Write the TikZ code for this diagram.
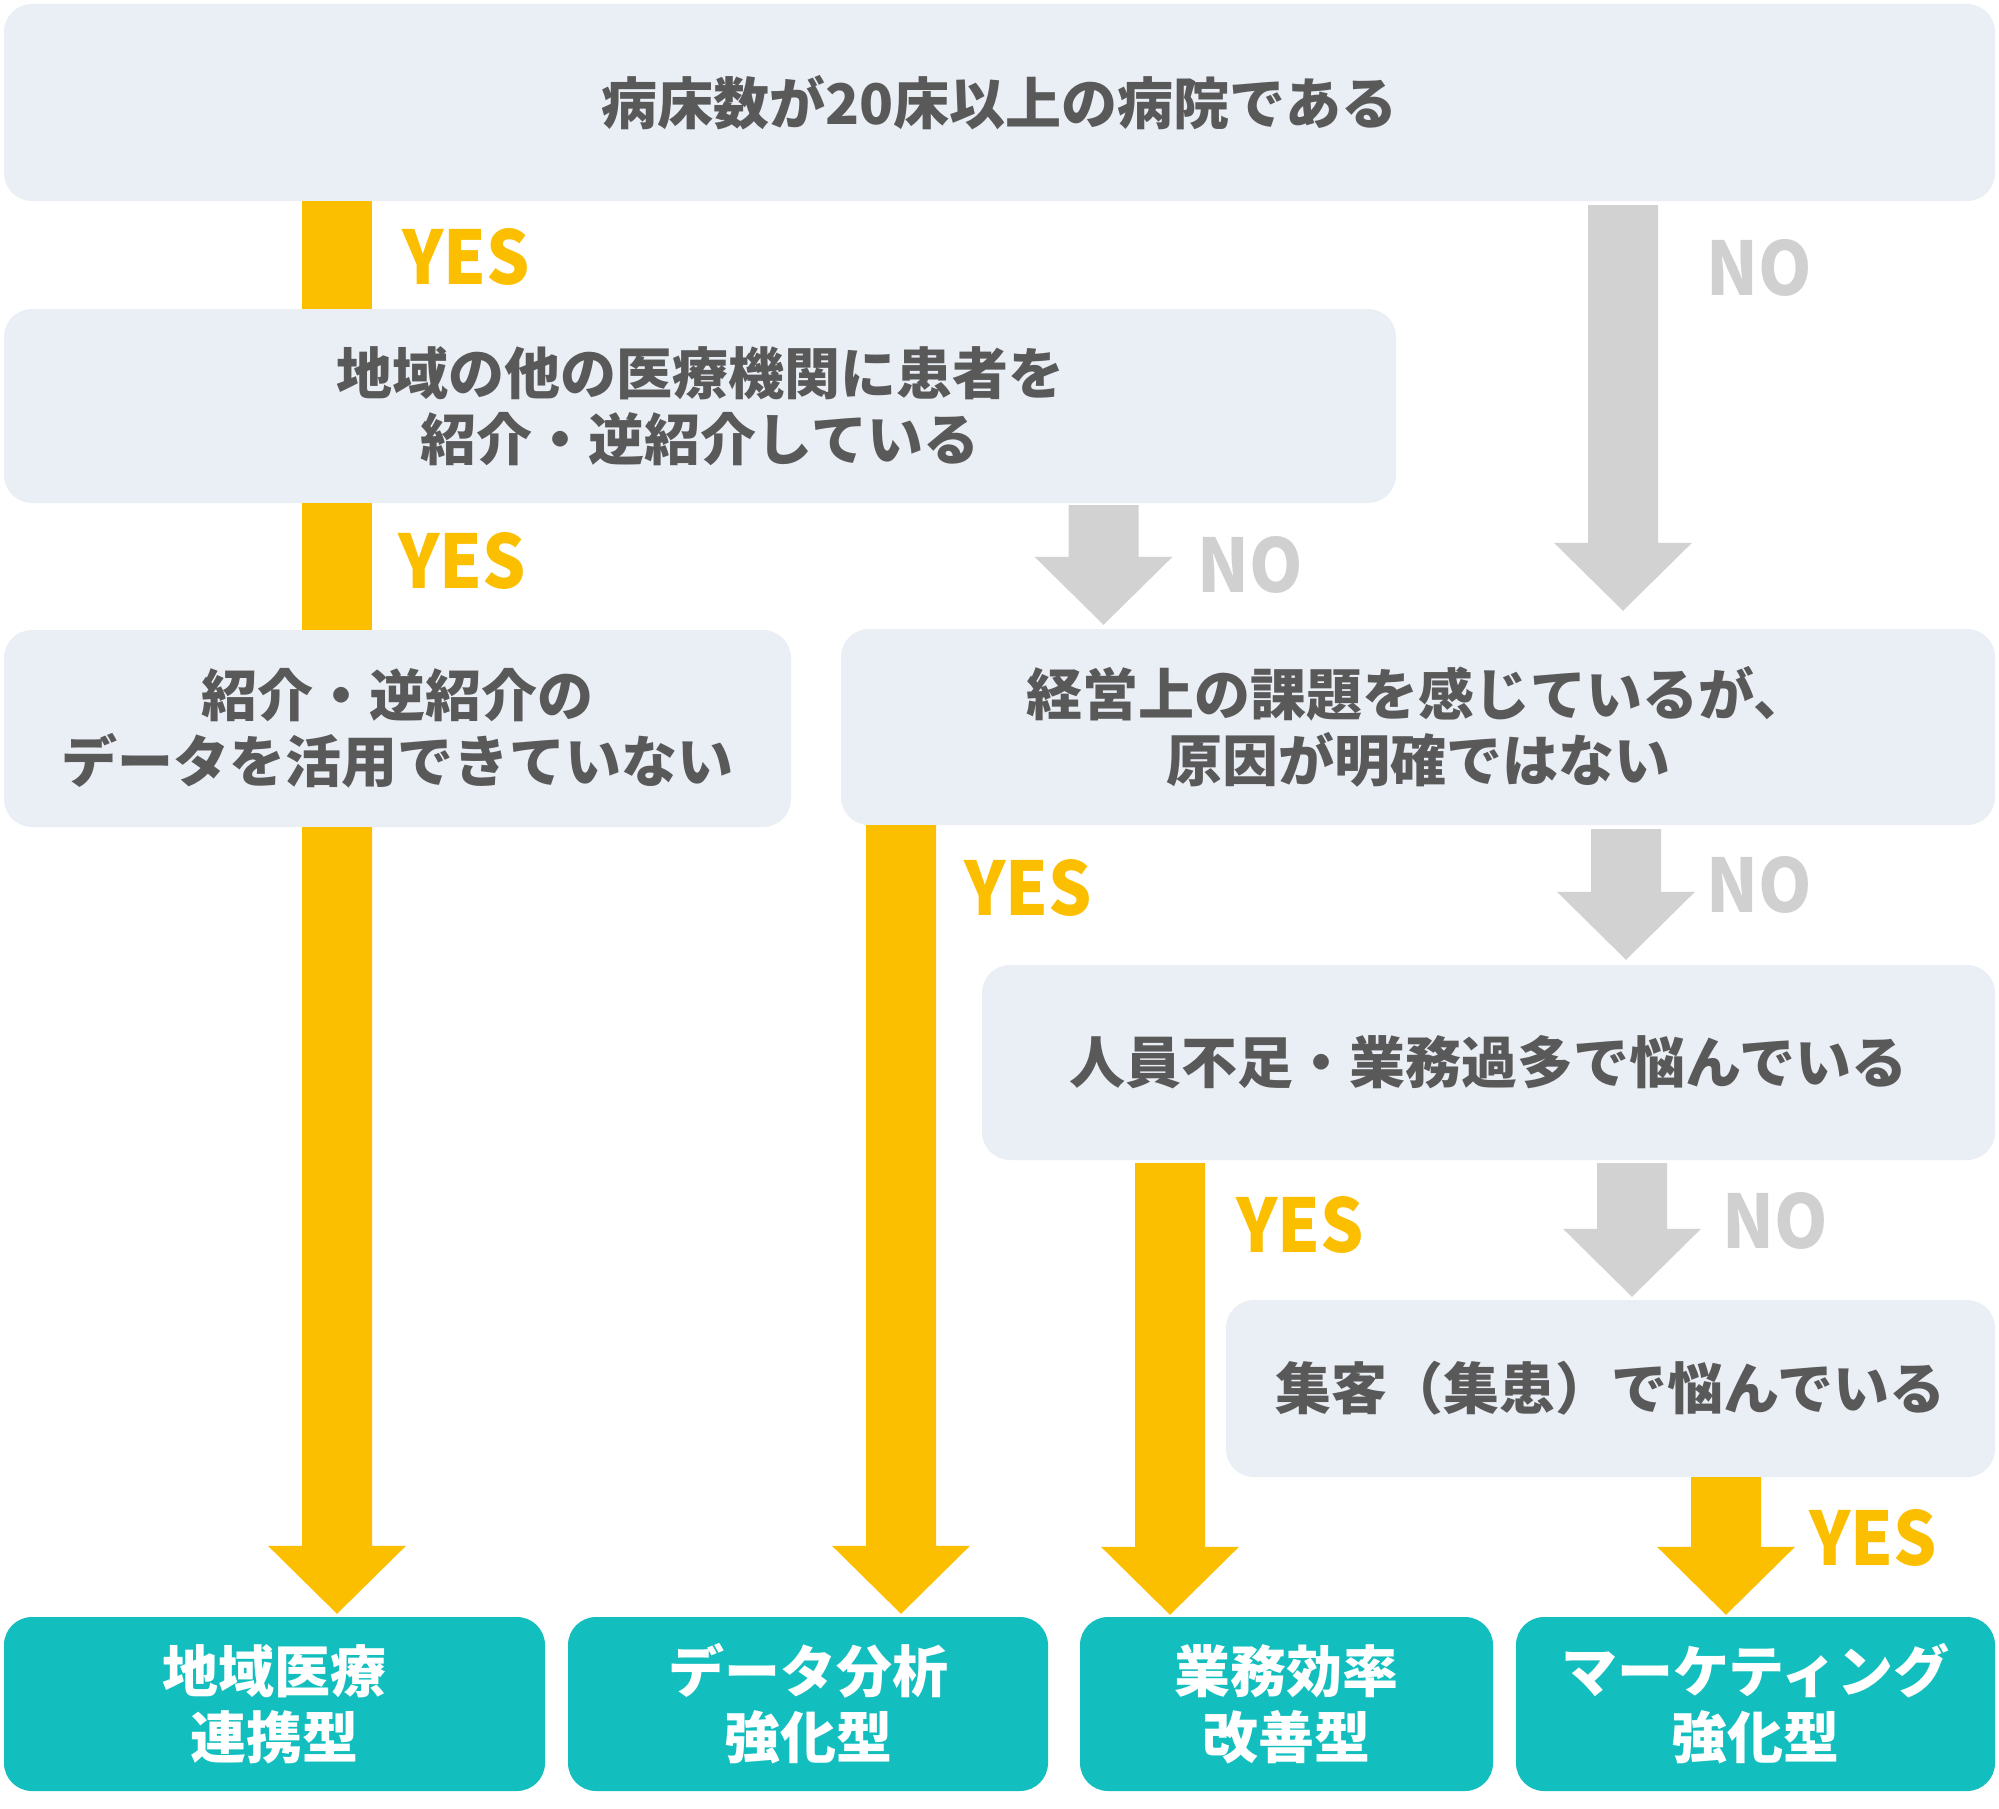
\documentclass[tikz,border=0pt]{standalone}
\usepackage{fontspec}
\setmainfont{Noto Sans CJK JP}
\newfontfamily\labfont{Noto Sans CJK JP}[FakeStretch=0.92]
\usetikzlibrary{calc}
\definecolor{qfill}{HTML}{EAEEF5}
\definecolor{qtext}{HTML}{595959}
\definecolor{yel}{HTML}{FBBF00}
\definecolor{garr}{HTML}{D2D2D2}
\definecolor{tealc}{HTML}{12BEBE}
\definecolor{notext}{HTML}{D0D0D0}
\newcommand\blockarrow[3]{%
  \fill[#1] let \p1=#2, \p2=#3 in
    (\x1-35pt,\y1) -- (\x1+35pt,\y1) -- (\x1+35pt,\y2+68pt) -- (\x1+69pt,\y2+68pt)
    -- (\x1,\y2) -- (\x1-69pt,\y2+68pt) -- (\x1-35pt,\y2+68pt) -- cycle;}
\newcommand\blockbar[3]{%
  \fill[#1] let \p1=#2, \p2=#3 in (\x1-35pt,\y1) rectangle (\x1+35pt,\y2);}
\begin{document}
\begin{tikzpicture}[x=1pt,y=-1pt,
  qbox/.style={fill=qfill, rounded corners=28pt, inner sep=0pt, align=center, text=qtext,
    font=\fontsize{56pt}{66pt}\selectfont\bfseries},
  rbox/.style={qbox, fill=tealc, text=white},
  yeslab/.style={text=yel, font=\labfont\fontsize{74pt}{74pt}\selectfont\bfseries, inner sep=0pt, anchor=base west},
  nolab/.style={yeslab, text=notext}]
\useasboundingbox (0,0) rectangle (1999,1809);
\fill[white] (0,0) rectangle (1999,1809);
% columns
\coordinate (c1) at (337,0);
\coordinate (c2) at (901,0);
\coordinate (c3) at (1170,0);
\coordinate (c4) at (1726,0);
\coordinate (g1) at (1623,0);
\coordinate (g2) at (1103.5,0);
\coordinate (g3) at (1626,0);
\coordinate (g4) at (1632,0);
% question boxes
\node[qbox, minimum width=1991pt, minimum height=197pt] (q1) at (999.5,102.5) {病床数が20床以上の病院である};
\node[qbox, minimum width=1392pt, minimum height=194pt] (q2) at (700,406) {地域の他の医療機関に患者を\\紹介・逆紹介している};
\node[qbox, minimum width=787pt, minimum height=197pt] (q3) at (397.5,728.5) {紹介・逆紹介の\\データを活用できていない};
\node[qbox, minimum width=1154pt, minimum height=196pt] (q4) at (1418,727) {経営上の課題を感じているが、\\原因が明確ではない};
\node[qbox, minimum width=1013pt, minimum height=195pt] (q5) at (1488.5,1062.5) {人員不足・業務過多で悩んでいる};
\node[qbox, minimum width=769pt, minimum height=177pt] (q6) at (1610.5,1388.5) {集客（集患）で悩んでいる};
% result boxes
\node[rbox, minimum width=541pt, minimum height=174pt] (r1) at (274.5,1704) {地域医療\\連携型};
\node[rbox, minimum width=480pt, minimum height=174pt] (r2) at (808,1704) {データ分析\\強化型};
\node[rbox, minimum width=413pt, minimum height=174pt] (r3) at (1286.5,1704) {業務効率\\改善型};
\node[rbox, minimum width=479pt, minimum height=174pt] (r4) at (1755.5,1704) {マーケティング\\強化型};
% yes connectors
\blockbar{yel}{(q1.south -| c1)}{(q2.north -| c1)}
\blockbar{yel}{(q2.south -| c1)}{(q3.north -| c1)}
\blockarrow{yel}{(q3.south -| c1)}{($(r1.north -| c1)+(0,-3)$)}
\blockarrow{yel}{(q4.south -| c2)}{($(r2.north -| c2)+(0,-3)$)}
\blockarrow{yel}{($(q5.south -| c3)+(0,3)$)}{($(r3.north -| c3)+(0,-2)$)}
\blockarrow{yel}{(q6.south -| c4)}{($(r4.north -| c4)+(0,-2)$)}
% no connectors
\blockarrow{garr}{($(q1.south -| g1)+(0,4)$)}{($(q4.north -| g1)+(0,-18)$)}
\blockarrow{garr}{($(q2.south -| g2)+(0,2)$)}{($(q4.north -| g2)+(0,-4)$)}
\blockarrow{garr}{($(q4.south -| g3)+(0,4)$)}{($(q5.north -| g3)+(0,-5)$)}
\blockarrow{garr}{($(q5.south -| g4)+(0,3)$)}{($(q6.north -| g4)+(0,-3)$)}
% labels
\node[yeslab] (y1) at (402,284) {YES};
\node[yeslab] (y2) at (398,588) {YES};
\node[yeslab] (y3) at (964,915) {YES};
\node[yeslab] (y4) at (1236,1252) {YES};
\node[yeslab] (y5) at (1809,1565) {YES};
\node[nolab] (n1) at (1706,295) {NO};
\node[nolab] (n2) at (1197,592) {NO};
\node[nolab] (n3) at (1706,912) {NO};
\node[nolab] (n4) at (1722,1248) {NO};
\end{tikzpicture}
\end{document}
